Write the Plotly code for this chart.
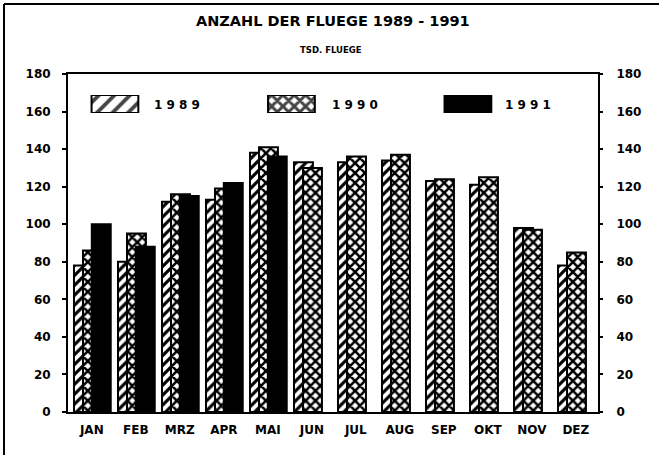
import plotly.graph_objects as go

# ---------------- data ----------------
months = ["JAN", "FEB", "MRZ", "APR", "MAI", "JUN", "JUL", "AUG", "SEP", "OKT", "NOV", "DEZ"]
flights_1989 = [78, 80, 112, 113, 138, 133, 133, 134, 123, 121, 98, 78]
flights_1990 = [86, 95, 116, 119, 141, 130, 136, 137, 124, 125, 97, 85]
flights_1991 = [100, 88, 115, 122, 136]
months_1991 = months[:len(flights_1991)]
years = ["1989", "1990", "1991"]
y_ticks = [0, 20, 40, 60, 80, 100, 120, 140, 160, 180]
title_text = "ANZAHL DER FLUEGE 1989 - 1991"
subtitle_text = "TSD. FLUEGE"

# ---------------- styling ----------------
FONT = "DejaVu Sans"
W, H = 659, 455
L, R, T, B = 68, 61, 74, 43
PW, PH = W - L - R, H - T - B

def px_x(px):
    return (px - L) / PW

def px_y(py):
    return (H - B - py) / PH

bar_w = 0.43
hatch = dict(shape="/", fgcolor="black", bgcolor="white", size=7, solidity=0.45,
             fgopacity=1, fillmode="overlay")
cross = dict(shape="x", fgcolor="black", bgcolor="white", size=7, solidity=0.6,
             fgopacity=1, fillmode="overlay")
line = dict(color="black", width=2)

fig = go.Figure()
fig.add_trace(go.Bar(x=months, y=flights_1989, name=years[0], width=bar_w, offset=-0.405,
                     marker=dict(color="white", pattern=hatch, line=line)))
fig.add_trace(go.Bar(x=months, y=flights_1990, name=years[1], width=bar_w, offset=-0.2,
                     marker=dict(color="white", pattern=cross, line=line)))
fig.add_trace(go.Bar(x=months_1991, y=flights_1991, name=years[2], width=bar_w, offset=0.0,
                     marker=dict(color="black", line=line)))
# invisible trace to carry the right-hand axis
fig.add_trace(go.Scatter(x=months, y=flights_1990, mode="none", yaxis="y3",
                         hoverinfo="skip", showlegend=False))

# legend swatches drawn as bars on a small helper axis
fig.add_trace(go.Bar(x=[0, 1, 2], y=[1, 1, 1], width=0.265, xaxis="x2", yaxis="y2",
                     marker=dict(color=["white", "white", "black"],
                                 pattern=dict(shape=["/", "x", ""], fgcolor="black",
                                              bgcolor="white", size=[11, 8, 8],
                                              solidity=[0.35, 0.6, 0.5],
                                              fgopacity=1, fillmode="overlay"),
                                 line=line),
                     hoverinfo="skip", showlegend=False))

tickfont = dict(family=FONT, size=12, color="black", weight="bold")

fig.update_layout(
    width=W, height=H, autosize=False,
    margin=dict(l=L, r=R, t=T, b=B, pad=0),
    paper_bgcolor="white", plot_bgcolor="white",
    barmode="overlay", showlegend=False,
    font=dict(family=FONT, color="black", weight="bold"),
    xaxis=dict(type="category", categoryorder="array", categoryarray=months,
               range=[-0.541, 11.504], showline=True, linecolor="black", linewidth=2,
               mirror=True, ticks="", showgrid=False, tickfont=tickfont,
               ticklabelstandoff=6),
    yaxis=dict(range=[0, 180], tickvals=y_ticks, ticks="outside", ticklen=4, tickwidth=1.5,
               tickcolor="black", showline=True, linecolor="black", linewidth=2, mirror=True,
               showgrid=False, zeroline=False, tickfont=tickfont, ticklabelstandoff=9),
    yaxis3=dict(range=[0, 180], tickvals=y_ticks, overlaying="y", side="right",
                ticks="outside", ticklen=4, tickwidth=1.5, tickcolor="black",
                showline=False, showgrid=False, zeroline=False, tickfont=tickfont,
                ticklabelstandoff=11),
    xaxis2=dict(domain=[0, 1], range=[-0.266, 2.737], visible=False, anchor="y2",
                fixedrange=True),
    yaxis2=dict(domain=[px_y(113), px_y(95)], range=[0, 1], visible=False, anchor="x2",
                fixedrange=True),
)

# legend labels
legend_x = [152, 330, 503]
for yr, lx in zip(years, legend_x):
    fig.add_annotation(text=" ".join(yr), x=px_x(lx), y=px_y(105), xref="paper", yref="paper",
                       xanchor="left", yanchor="middle", showarrow=False,
                       font=dict(family=FONT, size=12, color="black", weight="bold"))

# titles
fig.add_annotation(text=title_text, x=px_x(333), y=px_y(21), xref="paper", yref="paper",
                   xanchor="center", yanchor="middle", showarrow=False,
                   font=dict(family=FONT, size=14.5, color="black", weight="bold"))
fig.add_annotation(text=subtitle_text, x=px_x(331), y=px_y(50), xref="paper", yref="paper",
                   xanchor="center", yanchor="middle", showarrow=False,
                   font=dict(family=FONT, size=8.5, color="black", weight="bold"))

# outer frame lines (top and left edges of the scanned page)
fig.add_shape(type="line", xref="paper", yref="paper", x0=px_x(4), x1=px_x(659),
              y0=px_y(4), y1=px_y(4), line=dict(color="black", width=2))
fig.add_shape(type="line", xref="paper", yref="paper", x0=px_x(4), x1=px_x(4),
              y0=px_y(4), y1=px_y(455), line=dict(color="black", width=2))

fig.write_html("out.html", config={"displayModeBar": False},
               post_script="document.body.style.margin='0px';")
